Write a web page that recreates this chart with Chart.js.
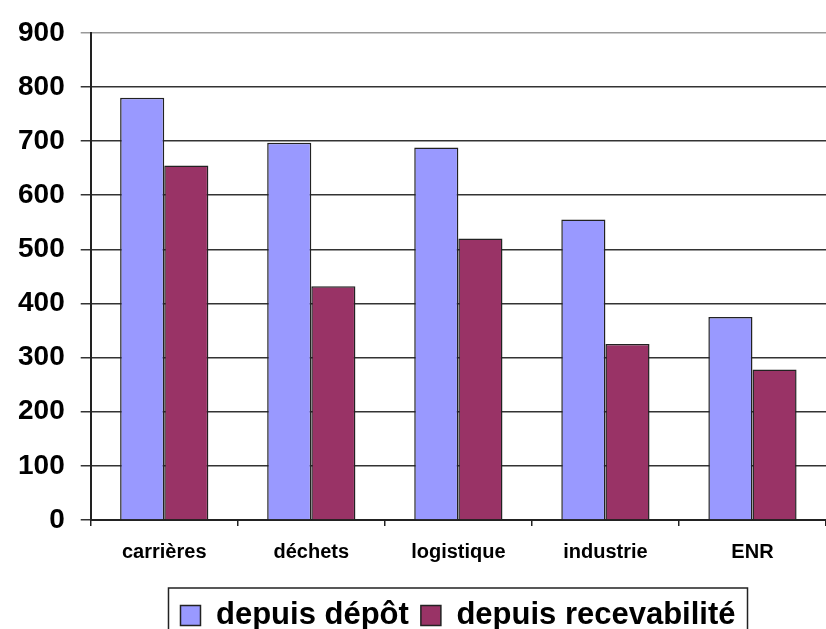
<!DOCTYPE html>
<html>
<head>
<meta charset="utf-8">
<script src="https://cdn.jsdelivr.net/npm/chart.js@4/dist/chart.umd.min.js"></script>
<style>
    html, body { margin: 0; padding: 0; background: #fff; }
    #wrap { width: 826px; height: 629px; }
</style>
</head>
<body>
<div id="wrap"><canvas id="chart" width="826" height="629"></canvas></div>
<script>
const categories = ['carrières', 'déchets', 'logistique', 'industrie', 'ENR'];
const depuisDepot = [780, 697, 688, 555, 375];
const depuisRecevabilite = [655, 432, 520, 325, 278];
const yTicks = [0, 100, 200, 300, 400, 500, 600, 700, 800, 900];

const LEGEND_SHIFT = 44;

// legend sits a bit right of centre and has a frame around it
const legendFrame = {
    id: 'legendFrame',
    afterLayout(chart) {
        const lg = chart.legend;
        if (!lg) return;
        lg.left += LEGEND_SHIFT;
        lg.right += LEGEND_SHIFT;
        (lg.legendHitBoxes || []).forEach(b => { b.left += LEGEND_SHIFT; });
    },
    afterDraw(chart) {
        const boxes = chart.legend && chart.legend.legendHitBoxes;
        if (!boxes || !boxes.length) return;
        const left = Math.min(...boxes.map(b => b.left)) - 12;
        const right = Math.max(...boxes.map(b => b.left + b.width)) + 12;
        const top = Math.min(...boxes.map(b => b.top)) - 12;
        const ctx = chart.ctx;
        ctx.save();
        ctx.strokeStyle = '#222';
        ctx.lineWidth = 1.5;
        ctx.strokeRect(left, top, right - left, 80);
        ctx.restore();
    }
};

new Chart(document.getElementById('chart'), {
    type: 'bar',
    data: {
        labels: categories,
        datasets: [{
            label: 'depuis dépôt',
            data: depuisDepot,
            backgroundColor: '#9999FF',
            borderColor: '#222',
            borderWidth: 1.5,
            borderSkipped: 'bottom'
        }, {
            label: 'depuis recevabilité',
            data: depuisRecevabilite,
            backgroundColor: '#993366',
            borderColor: '#222',
            borderWidth: 1.5,
            borderSkipped: 'bottom'
        }]
    },
    options: {
        responsive: false,
        animation: false,
        categoryPercentage: 0.6,
        barPercentage: 1,
        layout: { padding: { left: 2, right: 0, top: 14, bottom: -12 } },
        plugins: {
            tooltip: { enabled: false },
            legend: {
                position: 'bottom',
                labels: {
                    color: '#000',
                    boxWidth: 20,
                    boxHeight: 20,
                    padding: 12,
                    font: { family: 'Liberation Sans', size: 31, weight: 'bold' }
                }
            }
        },
        scales: {
            y: {
                min: 0,
                max: 900,
                afterBuildTicks: axis => { axis.ticks = yTicks.map(v => ({ value: v })); },
                border: { color: '#222', width: 2 },
                grid: {
                    color: ctx => ctx.tick && ctx.tick.value === 900 ? '#999' : '#333',
                    lineWidth: 1.5,
                    tickLength: 10
                },
                ticks: {
                    color: '#000',
                    padding: 16,
                    font: { family: 'Liberation Sans', size: 28, weight: 'bold' }
                }
            },
            x: {
                afterFit: scale => { scale.height += 10; },
                border: { color: '#222', width: 2 },
                grid: {
                    offset: true,
                    drawOnChartArea: false,
                    color: '#222',
                    lineWidth: 1.5,
                    tickLength: 6
                },
                ticks: {
                    color: '#000',
                    padding: 14,
                    font: { family: 'Liberation Sans', size: 20, weight: 'bold' }
                }
            }
        }
    },
    plugins: [legendFrame]
});
</script>
</body>
</html>
